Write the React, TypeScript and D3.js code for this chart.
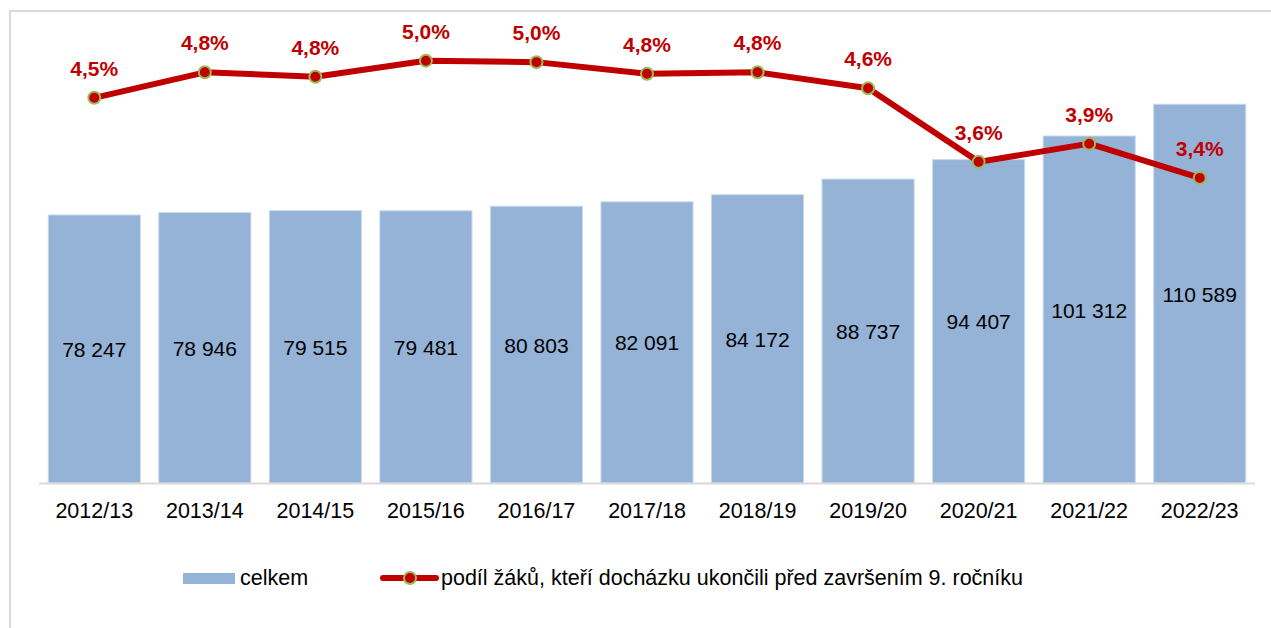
import React from "react";
import * as d3 from "d3";

const categories = ["2012/13","2013/14","2014/15","2015/16","2016/17","2017/18","2018/19","2019/20","2020/21","2021/22","2022/23"];
const totals = [78247, 78946, 79515, 79481, 80803, 82091, 84172, 88737, 94407, 101312, 110589];
const shares = [4.5, 4.85, 4.79, 5.01, 4.99, 4.83, 4.85, 4.63, 3.62, 3.87, 3.4];
const shareLabels = ["4,5%","4,8%","4,8%","5,0%","5,0%","4,8%","4,8%","4,6%","3,6%","3,9%","3,4%"];
const legendBar = "celkem";
const legendLine = "podíl žáků, kteří docházku ukončili před završením 9. ročníku";

const W = 1271, H = 628;
const FONT = "'Liberation Sans', Arial, Helvetica, sans-serif";
const BAR = "#95B3D7";
const RED = "#C00000";
const GREEN = "#9BBB59";
const GRID = "#D9D9D9";

export default function App() {
  const x = d3.scaleBand<string>().domain(categories).range([39, 1255]).paddingInner(0.167).paddingOuter(0.0835);
  const y = d3.scaleLinear().domain([0, 120000]).range([483, 72]);
  const y2 = d3.scaleLinear().domain([3, 5.5]).range([207, 25]);
  const cx = (c: string) => (x(c) as number) + x.bandwidth() / 2;
  const line = d3.line<number>().x((_, i) => cx(categories[i])).y((d) => y2(d));
  const fmt = (v: number) => d3.format(",")(v).replace(/,/g, " ");

  return (
    <svg width={W} height={H} style={{ position: "absolute", left: 0, top: 0, background: "#fff" }} fontFamily={FONT}>
      <rect x={0} y={0} width={W} height={H} fill="#fff" />
      <line x1={10} y1={10} x2={10} y2={H} stroke={GRID} strokeWidth={2} />
      <line x1={9} y1={11} x2={W} y2={11} stroke={GRID} strokeWidth={2} />
      {categories.map((c, i) => (
        <g key={c}>
          <rect x={x(c)} y={y(totals[i])} width={x.bandwidth()} height={y(0) - y(totals[i])} fill={BAR} stroke="#C9D8EC" strokeWidth={1} />
          <text x={cx(c)} y={(y(totals[i]) + y(0)) / 2 + 8} textAnchor="middle" fontSize={21} fill="#000">{fmt(totals[i])}</text>
          <text x={cx(c)} y={518} textAnchor="middle" fontSize={21.5} fill="#000">{c}</text>
        </g>
      ))}
      <line x1={39} y1={483.5} x2={1255} y2={483.5} stroke={GRID} strokeWidth={2} />
      <path d={line(shares) || ""} fill="none" stroke={RED} strokeWidth={6} strokeLinejoin="round" />
      {categories.map((c, i) => (
        <g key={"p" + c}>
          <circle cx={cx(c)} cy={y2(shares[i])} r={6} fill={RED} stroke={GREEN} strokeWidth={2} />
          <text x={cx(c)} y={y2(shares[i]) - 22} textAnchor="middle" fontSize={21} fontWeight="bold" fill={RED}>{shareLabels[i]}</text>
        </g>
      ))}
      <rect x={183} y={573} width={52} height={11} fill={BAR} />
      <text x={240} y={585} fontSize={21.5} fill="#000">{legendBar}</text>
      <line x1={383} y1={578} x2={436} y2={578} stroke={RED} strokeWidth={6} strokeLinecap="round" />
      <circle cx={410} cy={578} r={6} fill={RED} stroke={GREEN} strokeWidth={2} />
      <text x={441} y={585} fontSize={21.5} fill="#000">{legendLine}</text>
    </svg>
  );
}
